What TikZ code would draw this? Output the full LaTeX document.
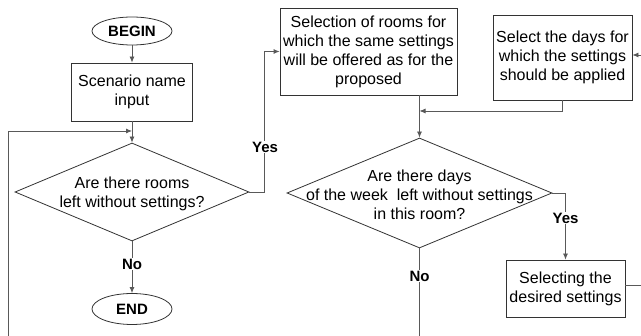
\documentclass[tikz,border=0pt]{standalone}
\usepackage{fontspec}
\setmainfont{Liberation Sans}
\usetikzlibrary{shapes.geometric,arrows.meta,calc}
\begin{document}
\begin{tikzpicture}[x=1pt,y=-1pt,
  font=\fontsize{16}{19}\selectfont,
  box/.style={draw=black!80, line width=0.8pt, rectangle, align=center, inner sep=0pt},
  term/.style={draw=black!80, line width=0.8pt, ellipse, inner sep=0pt, font=\fontsize{15}{18}\selectfont\bfseries},
  dec/.style={draw=black!80, line width=0.8pt, diamond, inner sep=0pt, aspect=2},
  dectext/.style={align=center, inner sep=0pt},
  conn/.style={draw=black!65, line width=0.8pt},
  arr/.style={conn, -{Latex[length=6pt,width=5pt]}},
  lbl/.style={fill=white, inner sep=1pt, font=\fontsize{15}{18}\selectfont\bfseries}
]
\useasboundingbox (0,0) rectangle (641,336);
\fill[white] (0,0) rectangle (641,336);

\node[term, minimum width=80pt, minimum height=28pt] (begin) at (132,31) {BEGIN};
\node[box, minimum width=121pt, minimum height=58pt] (name) at (132,92) {Scenario name\\input};
\node[dec, minimum width=234pt, minimum height=98pt] (d1) at (132,192) {};
\node[dectext] (d1t) at (132,194) {Are there rooms\\left without settings?};
\node[term, minimum width=80pt, minimum height=31pt] (end) at (132,309) {END};
\node[box, minimum width=177pt, minimum height=87pt] (rooms) at (368.5,51.5) {Selection of rooms for\\which the same settings\\will be offered as for the\\proposed};
\node[box, minimum width=139pt, minimum height=85pt] (days) at (562.5,57.5) {Select the days for\\which the settings\\should be applied};
\node[dec, minimum width=265pt, minimum height=110pt] (d2) at (419.5,193) {};
\node[dectext] (d2t) at (419.5,195) {Are there days\\of the week\ \ left without settings\\in this room?};
\node[box, minimum width=119pt, minimum height=57pt] (sel) at (565.5,288.5) {Selecting the\\desired settings};

% left column
\draw[arr] (begin) -- (name);
\draw[arr] (name.south) -- (d1.north);
\coordinate (fbs) at (8,336);
\coordinate (fbe) at (132,131);
\draw[arr] (fbs) |- (fbe);
\draw[arr] (d1.east) -- ++(15,0) |- (rooms.west);
\draw[arr] (d1.south) -- (end.north);

% right part
\draw[arr] (rooms.south -| d2.north) -- (d2.north);
\coordinate (merge) at (419.5,111);
\draw[arr] (days.south) |- (merge);
\coordinate (inr) at (641,55);
\draw[arr] (inr) -- (inr -| days.east);
\draw[arr] (d2.east) -| (sel.north);
\coordinate (outr) at (641,285);
\draw[conn] (sel.east |- outr) -- (outr);
\coordinate (d2out) at (419.5,336);
\draw[conn] (d2.south) -- (d2out);

% labels
\node[lbl] (yes1) at (265,147) {Yes};
\node[lbl] (no1) at (132,264) {No};
\node[lbl] (yes2) at (565.5,218) {Yes};
\node[lbl] (no2) at (419.5,276) {No};
\end{tikzpicture}
\end{document}
